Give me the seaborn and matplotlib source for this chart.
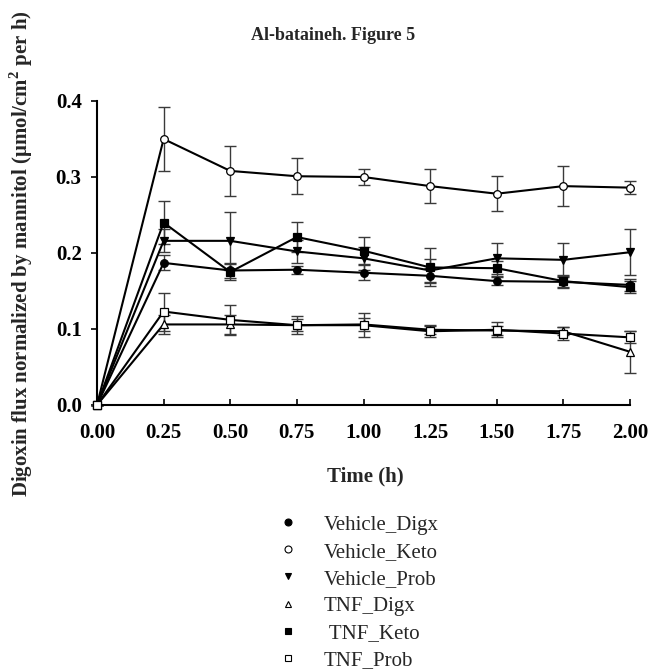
import numpy as np
import pandas as pd
import matplotlib
matplotlib.use("Agg")
import matplotlib.pyplot as plt
from matplotlib.lines import Line2D
import seaborn as sns

time = [0.0, 0.25, 0.5, 0.75, 1.0, 1.25, 1.5, 1.75, 2.0]

vehicle_digx = [0.0, 0.187, 0.177, 0.178, 0.174, 0.170, 0.163, 0.162, 0.158]
vehicle_digx_err = [0.0, 0.010, 0.010, 0.005, 0.010, 0.010, 0.005, 0.008, 0.008]

vehicle_keto = [0.0, 0.350, 0.308, 0.301, 0.300, 0.288, 0.278, 0.288, 0.286]
vehicle_keto_err = [0.0, 0.042, 0.033, 0.024, 0.011, 0.022, 0.023, 0.026, 0.009]

vehicle_prob = [0.0, 0.216, 0.216, 0.202, 0.193, 0.177, 0.193, 0.191, 0.201]
vehicle_prob_err = [0.0, 0.015, 0.038, 0.015, 0.015, 0.015, 0.020, 0.022, 0.030]

tnf_digx = [0.0, 0.106, 0.106, 0.105, 0.106, 0.099, 0.098, 0.097, 0.070]
tnf_digx_err = [0.0, 0.012, 0.012, 0.008, 0.008, 0.005, 0.006, 0.005, 0.028]

tnf_keto = [0.0, 0.240, 0.175, 0.221, 0.203, 0.181, 0.180, 0.163, 0.155]
tnf_keto_err = [0.0, 0.028, 0.010, 0.020, 0.018, 0.025, 0.010, 0.008, 0.008]

tnf_prob = [0.0, 0.123, 0.112, 0.105, 0.105, 0.097, 0.099, 0.094, 0.089]
tnf_prob_err = [0.0, 0.025, 0.020, 0.012, 0.016, 0.008, 0.010, 0.008, 0.008]

series_names = ["Vehicle_Digx", "Vehicle_Keto", "Vehicle_Prob", "TNF_Digx", " TNF_Keto", "TNF_Prob"]
series_vals = [vehicle_digx, vehicle_keto, vehicle_prob, tnf_digx, tnf_keto, tnf_prob]
series_errs = [vehicle_digx_err, vehicle_keto_err, vehicle_prob_err, tnf_digx_err, tnf_keto_err, tnf_prob_err]
markers = ["o", "o", "v", "^", "s", "s"]
facecolors = ["black", "white", "black", "white", "black", "white"]

xticks = [0.0, 0.25, 0.5, 0.75, 1.0, 1.25, 1.5, 1.75, 2.0]
yticks = [0.0, 0.1, 0.2, 0.3, 0.4]

sns.set_theme(style="ticks")
plt.rcParams['font.family'] = ['Liberation Serif', 'DejaVu Serif']
plt.rcParams['mathtext.fontset'] = 'custom'
plt.rcParams['mathtext.rm'] = 'Liberation Serif'
plt.rcParams['mathtext.bf'] = 'Liberation Serif:bold'

W, H = 649, 671
fig = plt.figure(figsize=(W/100, H/100), dpi=100)
ax = fig.add_axes([97/W, 1-405/H, (630-97)/W, (405-101)/H])

for name, vals, errs, mk, fc in zip(series_names, series_vals, series_errs, markers, facecolors):
    df = pd.DataFrame({"time": time, "flux": vals})
    ax.errorbar(time, vals, yerr=errs, fmt="none", ecolor="#3a3a3a", elinewidth=1.0,
                capsize=4, capthick=1.0, zorder=2)
    sns.lineplot(data=df, x="time", y="flux", ax=ax, color="black", linewidth=1.5,
                 marker=mk, markersize=5.5, markerfacecolor=fc,
                 markeredgecolor="black", markeredgewidth=0.9, zorder=3, legend=False)

ax.set_xlim(0, 2.0)
ax.set_ylim(0, 0.4)
ax.set_xticks(xticks)
ax.set_xticklabels([f"{t:.2f}" for t in xticks], fontsize=15, fontweight="bold")
ax.set_yticks(yticks)
ax.set_yticklabels([f"{t:.1f}" for t in yticks], fontsize=15, fontweight="bold")
ax.tick_params(axis="x", direction="in", length=4, width=1.2, colors="black", pad=13)
ax.tick_params(axis="y", direction="out", length=4.5, width=1.2, colors="black", pad=6.5)
for s in ["top", "right"]:
    ax.spines[s].set_visible(False)
for s in ["left", "bottom"]:
    ax.spines[s].set_color("black")
    ax.spines[s].set_linewidth(1.5)
for art in ax.get_children():
    try:
        art.set_clip_on(False)
    except Exception:
        pass

ax.set_xlabel("")
ax.set_ylabel("")
fig.text(365/W, 1-476/H, "Time (h)", ha="center", va="center", fontsize=15, fontweight="bold")
fig.text(21/W, 1-254/H, "Digoxin flux normalized by mannitol (μmol/cm$^\\mathbf{2}$ per h)",
         rotation=90, ha="center", va="center", fontsize=15, fontweight="bold")
fig.text(333/W, 1-36/H, "Al-bataineh. Figure 5", ha="center", va="center",
         fontsize=13, fontweight="bold")

handles = [Line2D([], [], linestyle="none", marker=mk, markersize=5, markerfacecolor=fc,
                  markeredgecolor="black", markeredgewidth=0.8)
           for mk, fc in zip(markers, facecolors)]
fig.legend(handles, series_names, loc="upper left", bbox_to_anchor=(272/W, 1-515/H),
           frameon=False, fontsize=15, handletextpad=1.0, labelspacing=0.36,
           handlelength=1.5, borderpad=0, borderaxespad=0)

fig.savefig("out.png", dpi=100)
